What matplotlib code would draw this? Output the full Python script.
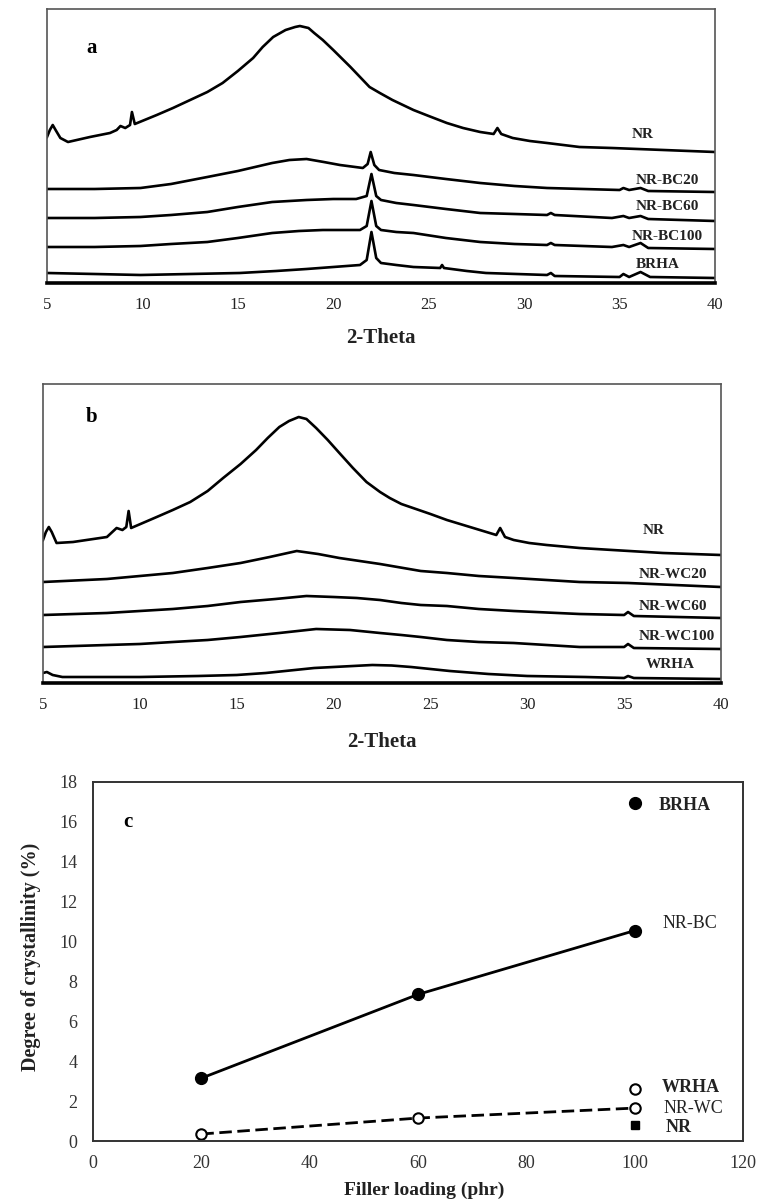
import matplotlib
matplotlib.use("Agg")
import matplotlib.pyplot as plt

plt.rcParams['font.family'] = ['Liberation Serif', 'DejaVu Serif']

# ---- panel a : XRD patterns (2-theta, intensity a.u. with offsets)
a_nr_x = [5.0, 5.15, 5.3, 5.45, 5.7, 6.1, 7.25, 8.3, 8.65, 8.85, 9.1, 9.35, 9.45, 9.6, 10.75, 11.6, 12.5, 13.4,
          14.2, 15.0, 15.8, 16.3, 16.85, 17.5, 18.0, 18.25, 18.7, 19.0, 19.45, 20.0, 20.9, 21.5, 21.9, 22.44,
          23.1, 24.2, 25.0, 25.95, 26.8, 27.7, 28.4, 28.6, 28.8, 29.4, 30.3, 31.2, 32.9, 34.6, 37.3, 40.0]
a_nr_y = [146, 153, 158, 153, 145, 141, 146, 150, 153, 157, 155, 158, 171, 159, 168, 175, 183, 191,
          200, 212, 225, 236, 246, 253, 256, 257, 255, 250, 243, 233, 216, 204, 196, 190,
          183, 173, 167, 160, 155, 151, 149, 155, 149, 145, 142, 140, 136, 135, 133, 131]

a_bc20_x = [5.0, 7.5, 9.9, 11.5, 13.4, 15.0, 16.8, 17.7, 18.6, 19.5, 20.35, 21.55, 21.8, 21.96, 22.15, 22.4,
            23.2, 24.2, 25.9, 27.7, 29.5, 31.2, 35.0, 35.2, 35.5, 36.1, 36.5, 40.0]
a_bc20_y = [94, 94, 95, 99, 106, 112, 120, 123, 124, 121, 118, 115, 119, 131, 118, 113,
            110, 108, 104, 100, 97, 95, 93, 95, 93, 95, 92, 91]

a_bc60_x = [5.0, 7.5, 9.9, 11.5, 13.4, 15.0, 16.8, 18.6, 20.0, 21.2, 21.75, 22.0, 22.25, 22.5, 23.3, 24.2,
            25.9, 27.7, 29.5, 31.2, 31.4, 31.6, 34.6, 35.2, 35.5, 36.1, 36.5, 40.0]
a_bc60_y = [65, 65, 66, 68, 71, 76, 81, 83, 84, 84, 87, 109, 87, 83, 80, 78,
            74, 70, 69, 68, 70, 68, 65, 67, 65, 67, 64, 62]

a_bc100_x = [5.0, 7.5, 9.9, 11.5, 13.4, 15.0, 16.8, 18.2, 19.45, 21.4, 21.75, 22.0, 22.25, 22.5, 23.3, 24.2,
             25.9, 27.7, 29.5, 31.2, 31.4, 31.6, 34.6, 35.2, 35.5, 36.1, 36.5, 40.0]
a_bc100_y = [36, 36, 37, 39, 41, 45, 50, 52, 53, 53, 57, 82, 57, 53, 51, 50,
             45, 41, 39, 38, 40, 38, 36, 38, 36, 40, 35, 34]

a_brha_x = [5.0, 7.5, 9.9, 12.5, 15.1, 17.0, 18.6, 20.0, 21.4, 21.75, 22.0, 22.25, 22.5, 23.3, 24.2, 25.6,
            25.7, 25.8, 27.0, 28.0, 31.2, 31.4, 31.6, 35.0, 35.2, 35.5, 36.1, 36.6, 40.0]
a_brha_y = [10, 9, 8, 9, 10, 12, 14, 16, 18, 23, 51, 25, 20, 18, 16, 15,
            18, 15, 12, 10, 8, 10, 7, 6, 9, 6, 11, 6, 5]

# ---- panel b
b_nr_x = [5.0, 5.15, 5.3, 5.45, 5.7, 6.55, 8.3, 8.8, 9.1, 9.3, 9.42, 9.55, 10.87, 11.7, 12.6, 13.5, 14.3,
          15.2, 16.0, 16.6, 17.2, 17.7, 18.2, 18.6, 19.1, 19.7, 20.3, 21.0, 21.7, 22.4, 22.9, 23.5, 24.1,
          25.0, 25.85, 26.7, 27.55, 28.4, 28.6, 28.85, 29.3, 30.1, 31.0, 32.7, 34.4, 37.0, 40.0]
b_nr_y = [143, 151, 156, 151, 140, 141, 146, 155, 153, 156, 172, 155, 166, 173, 181, 192, 205,
          219, 233, 245, 256, 262, 266, 264, 255, 243, 230, 215, 201, 191, 185, 179, 175,
          169, 163, 158, 153, 148, 155, 146, 143, 140, 138, 135, 133, 130, 128]

b_wc20_x = [5.0, 8.3, 10.0, 11.7, 13.5, 15.2, 16.7, 18.1, 19.2, 20.3, 22.4, 24.5, 25.85, 27.5, 29.3, 32.7, 35.2, 40.0]
b_wc20_y = [101, 104, 107, 110, 115, 120, 126, 132, 129, 125, 119, 112, 110, 107, 105, 101, 100, 96]

b_wc60_x = [5.0, 8.3, 10.0, 11.7, 13.5, 15.2, 17.0, 18.6, 20.0, 21.2, 22.4, 23.5, 24.5, 25.85, 27.5, 29.3, 32.7,
            35.0, 35.2, 35.5, 40.0]
b_wc60_y = [68, 70, 72, 74, 77, 81, 84, 87, 86, 85, 83, 80, 78, 77, 74, 72, 69, 68, 71, 67, 65]

b_wc100_x = [5.0, 8.3, 10.0, 11.7, 13.5, 15.2, 17.2, 19.1, 20.85, 22.4, 23.5, 24.5, 25.85, 27.5, 29.3, 32.7,
             35.0, 35.2, 35.5, 40.0]
b_wc100_y = [36, 38, 39, 41, 43, 46, 50, 54, 53, 50, 48, 46, 43, 41, 40, 36, 36, 39, 35, 34]

b_wrha_x = [5.0, 5.2, 5.5, 6.0, 10.0, 13.0, 15.0, 16.5, 18.0, 19.0, 20.0, 21.0, 22.0, 23.0, 24.0, 25.0, 26.0,
            27.0, 28.0, 30.0, 33.0, 35.0, 35.2, 35.5, 40.0]
b_wrha_y = [10, 11, 8, 6, 6, 7, 8, 10, 13, 15, 16, 17, 18, 17.5, 16, 14, 12, 10.5, 9, 7, 6, 5, 7, 5, 4]

# ---- panel c : degree of crystallinity
loading = [20, 60, 100]
nr_bc = [3.15, 7.35, 10.55]
nr_wc = [0.35, 1.15, 1.65]
brha_x, brha_y = [100], [16.95]
wrha_x, wrha_y = [100], [2.6]
nr_x, nr_y = [100], [0.8]


fig = plt.figure(figsize=(7.59, 11.99), dpi=100)


def xrd_axes(rect, ymax):
    ax = fig.add_axes(rect)
    ax.set_xlim(5, 40)
    ax.set_ylim(0, ymax)
    ax.set_yticks([])
    ax.set_xticks([5, 10, 15, 20, 25, 30, 35, 40])
    ax.tick_params(axis='x', length=0, pad=10, labelsize=12, labelcolor='#222222')
    for s in ['left', 'top', 'right']:
        ax.spines[s].set_color('#555555')
        ax.spines[s].set_linewidth(1.2)
    ax.spines['bottom'].set_linewidth(2.6)
    ax.spines['bottom'].set_color('black')
    ax.set_xlabel('2-Theta', fontsize=15, fontweight='bold', color='#222222')
    ax.xaxis.set_label_coords(0.5, -0.165)
    return ax


# panel a
ax = xrd_axes([47 / 759, 1 - 283 / 1199, 668 / 759, 274 / 1199], 274)
for xs, ys in [(a_nr_x, a_nr_y), (a_bc20_x, a_bc20_y), (a_bc60_x, a_bc60_y),
               (a_bc100_x, a_bc100_y), (a_brha_x, a_brha_y)]:
    ax.plot(xs, ys, color='black', lw=1.9)
for txt, x, y in [('NR', 36.2, 148), ('NR-BC20', 37.5, 103), ('NR-BC60', 37.5, 76),
                  ('NR-BC100', 37.5, 46), ('BRHA', 37.0, 19)]:
    ax.text(x, y, txt, ha='center', va='center', fontsize=11, fontweight='bold', color='#222222')
ax.text(7.36, 235, 'a', ha='center', va='center', fontsize=15, fontweight='bold')

# panel b
ax = xrd_axes([43 / 759, 1 - 683 / 1199, 678 / 759, 299 / 1199], 299)
for xs, ys in [(b_nr_x, b_nr_y), (b_wc20_x, b_wc20_y), (b_wc60_x, b_wc60_y),
               (b_wc100_x, b_wc100_y), (b_wrha_x, b_wrha_y)]:
    ax.plot(xs, ys, color='black', lw=1.9)
for txt, x, y in [('NR', 36.5, 153), ('NR-WC20', 37.5, 108), ('NR-WC60', 37.5, 77),
                  ('NR-WC100', 37.7, 47), ('WRHA', 37.4, 18)]:
    ax.text(x, y, txt, ha='center', va='center', fontsize=11, fontweight='bold', color='#222222')
ax.text(7.53, 266, 'b', ha='center', va='center', fontsize=15, fontweight='bold')

# panel c
ax = fig.add_axes([93 / 759, 58 / 1199, 650 / 759, 359 / 1199])
ax.plot(loading, nr_bc, color='black', lw=2, marker='o', ms=8.5)
ax.plot(loading, nr_wc, color='black', lw=2, dashes=(4.5, 2), marker='o', ms=7.5,
        mfc='white', mew=1.5)
ax.plot(brha_x, brha_y, 'o', color='black', ms=8.5)
ax.plot(wrha_x, wrha_y, 'o', color='black', ms=7.5, mfc='white', mew=1.5)
ax.plot(nr_x, nr_y, 's', color='black', ms=5.5)
ax.set_xlim(0, 120)
ax.set_ylim(0, 18)
ax.set_xticks(range(0, 121, 20))
ax.set_yticks(range(0, 19, 2))
ax.tick_params(length=0, labelsize=13, labelcolor='#333333')
ax.tick_params(axis='x', pad=10)
ax.tick_params(axis='y', pad=11)
for s in ax.spines.values():
    s.set_color('#333333')
    s.set_linewidth(1.4)
ax.text(104.5, 16.8, 'BRHA', ha='left', va='center', fontsize=13, fontweight='bold', color='#222222')
ax.text(105.2, 10.9, 'NR-BC', ha='left', va='center', fontsize=13, color='#222222')
ax.text(105.0, 2.7, 'WRHA', ha='left', va='center', fontsize=13, fontweight='bold', color='#222222')
ax.text(105.4, 1.65, 'NR-WC', ha='left', va='center', fontsize=13, color='#222222')
ax.text(105.8, 0.7, 'NR', ha='left', va='center', fontsize=13, fontweight='bold', color='#222222')
ax.text(6.5, 16.0, 'c', ha='center', va='center', fontsize=15, fontweight='bold')
ax.set_xlabel('Filler loading (phr)', fontsize=14, fontweight='bold', color='#222222')
ax.xaxis.set_label_coords(0.51, -0.112)
ax.set_ylabel('Degree of crystallinity (%)', fontsize=14.5, fontweight='bold', color='#222222')
ax.yaxis.set_label_coords(-0.08, 0.513)

fig.savefig('out.png', dpi=100)
